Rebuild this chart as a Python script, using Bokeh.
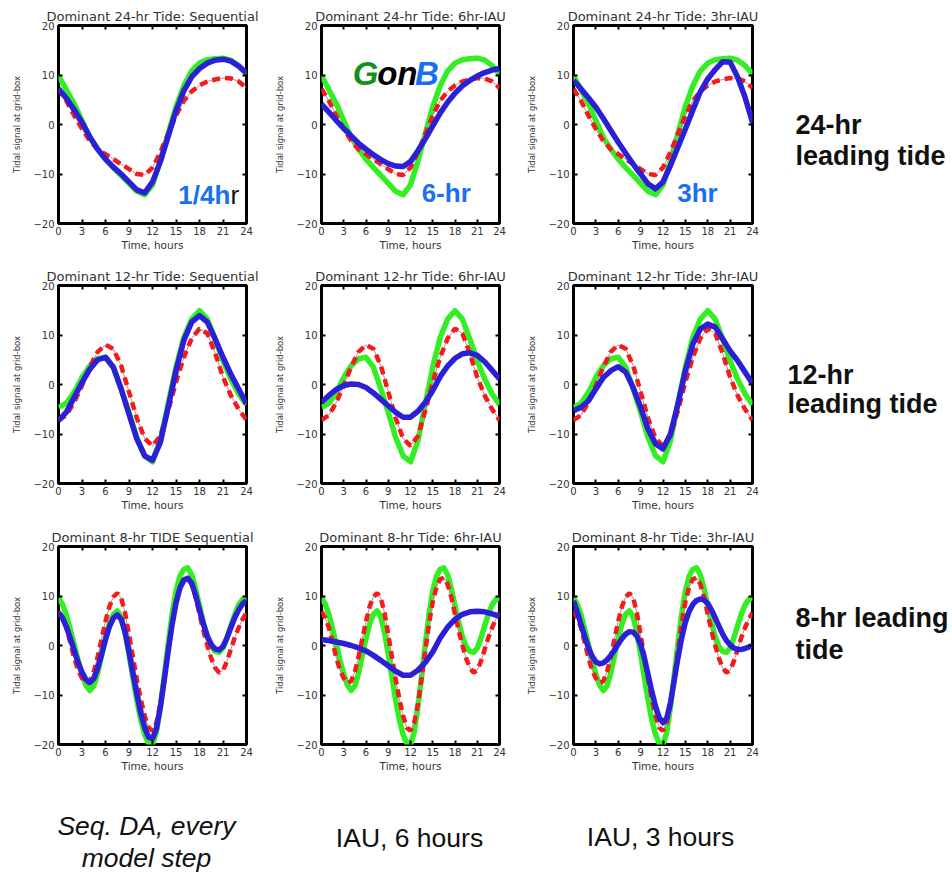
from bokeh.plotting import figure
from bokeh.layouts import column, row
from bokeh.models import Range1d, FixedTicker, LinearAxis, Label
from bokeh.embed import file_html
from bokeh.resources import INLINE

# ---------------- data ----------------
HOURS = [0, 1, 2, 3, 4, 5, 6, 7, 8, 9, 10, 11, 12, 13, 14, 15, 16, 17, 18, 19, 20, 21, 22, 23, 24]
HALF_HOURS = [0, 0.5, 1, 1.5, 2, 2.5, 3, 3.5, 4, 4.5, 5, 5.5, 6, 6.5, 7, 7.5, 8, 8.5, 9, 9.5,
              10, 10.5, 11, 11.5, 12, 12.5, 13, 13.5, 14, 14.5, 15, 15.5, 16, 16.5, 17, 17.5,
              18, 18.5, 19, 19.5, 20, 20.5, 21, 21.5, 22, 22.5, 23, 23.5, 24]

X_TICKS = [0, 3, 6, 9, 12, 15, 18, 21, 24]
Y_TICKS = [-20, -10, 0, 10, 20]

TITLES = [
    ["Dominant 24-hr Tide: Sequential", "Dominant 24-hr Tide: 6hr-IAU", "Dominant 24-hr Tide: 3hr-IAU"],
    ["Dominant 12-hr Tide: Sequential", "Dominant 12-hr Tide: 6hr-IAU", "Dominant 12-hr Tide: 3hr-IAU"],
    ["Dominant 8-hr TIDE Sequential", "Dominant 8-hr Tide: 6hr-IAU", "Dominant 8-hr Tide: 3hr-IAU"],
]

# row 1: 24-hr leading tide (hourly)
red_24 = [7.2, 4.8, 1.8, -0.9, -3.3, -5.0, -6.0, -7.0, -8.0, -9.0, -10.0, -10.2, -8.7, -5.6, -1.9,
          1.8, 4.8, 6.7, 7.9, 8.7, 9.1, 9.4, 9.3, 8.7, 7.4]
green_24 = [9.9, 7.0, 4.2, 0.8, -2.6, -5.0, -7.0, -8.7, -10.3, -11.9, -13.5, -14.2, -12.2, -7.4, -1.8,
            3.6, 7.8, 10.8, 12.4, 13.1, 13.3, 13.4, 13.0, 11.9, 10.2]
blue_24_seq = [7.2, 5.3, 3.0, 0.4, -2.5, -5.0, -7.0, -8.6, -10.0, -11.6, -13.2, -13.8, -11.6, -7.5, -2.4,
               2.8, 6.8, 9.6, 11.3, 12.4, 13.0, 13.2, 12.8, 11.8, 10.4]
blue_24_iau6 = [4.1, 2.5, 0.8, -0.8, -2.3, -3.8, -5.0, -6.1, -7.1, -7.9, -8.4, -8.5, -7.5, -5.3, -2.9,
                -0.3, 2.3, 4.5, 6.3, 7.8, 8.9, 9.8, 10.5, 11.0, 11.3]
blue_24_iau3 = [8.9, 7.2, 5.4, 3.5, 1.2, -1.2, -3.6, -5.8, -8.0, -10.0, -12.0, -13.0, -11.6, -8.3, -4.6,
                -0.9, 2.9, 6.6, 9.2, 11.1, 12.7, 12.6, 9.6, 5.5, 0.4]

# row 2: 12-hr leading tide (hourly)
red_12 = [-7.2, -6.2, -3.6, -0.2, 3.6, 6.6, 8.0, 7.2, 3.8, -1.5, -6.8, -10.9, -12.4, -10.4, -5.3,
          0.5, 5.5, 9.3, 11.3, 10.3, 6.3, 1.5, -2.2, -5.0, -7.2]
green_12 = [-4.6, -3.8, -1.6, 1.4, 3.8, 5.2, 5.5, 3.5, -0.9, -5.6, -10.7, -14.4, -15.6, -11.4, -3.9,
            3.5, 9.5, 13.2, 14.9, 13.2, 9.2, 4.8, 1.1, -1.9, -4.1]
blue_12_seq = [-7.3, -5.6, -2.6, 0.4, 3.1, 5.0, 5.5, 3.5, -0.9, -6.0, -11.0, -14.4, -15.3, -11.7, -4.6,
               2.8, 8.9, 12.6, 13.9, 12.6, 9.2, 5.5, 2.1, -0.9, -3.9]
blue_12_iau6 = [-3.6, -2.2, -1.0, -0.2, 0.1, 0.0, -0.6, -1.7, -3.0, -4.3, -5.6, -6.6, -6.6, -5.4, -3.6,
                -1.2, 1.6, 3.7, 5.3, 6.2, 6.4, 5.9, 4.6, 2.9, 1.1]
blue_12_iau3 = [-5.3, -4.6, -3.3, -0.9, 1.4, 2.8, 3.6, 2.5, -0.6, -4.6, -9.0, -12.0, -13.0, -10.0, -3.9,
                2.8, 8.2, 11.2, 12.2, 11.6, 9.2, 6.8, 4.8, 2.5, 0.2]

# row 3: 8-hr leading tide (half-hourly, except the smooth 6hr-IAU curve)
red_8 = [6.9, 5.6, 3.6, 0.6, -2.5, -5.0, -6.6, -7.6, -7.2, -5.3, -2.3, 1.3, 4.9, 7.9, 9.8, 10.6, 9.6,
         6.6, 2.2, -2.3, -6.8, -10.8, -14.2, -16.6, -17.2, -15.6, -11.8, -6.6, -1.0, 4.4, 8.8, 11.8,
         13.4, 13.7, 12.4, 9.8, 6.3, 3.0, 0.0, -2.6, -4.5, -5.5, -5.0, -3.2, -0.8, 1.6, 3.6, 5.3, 6.6]
green_8 = [9.6, 8.4, 6.2, 3.3, 0.2, -3.0, -5.8, -8.0, -9.1, -8.2, -5.6, -2.0, 1.5, 4.4, 6.3, 7.0, 5.8,
           2.6, -1.8, -6.5, -11.0, -15.0, -18.0, -19.8, -20.0, -17.5, -12.5, -6.2, 0.3, 6.3, 11.0,
           14.0, 15.4, 15.7, 14.3, 11.5, 8.0, 4.6, 1.8, -0.2, -1.2, -1.4, -0.5, 1.5, 4.0, 6.3, 8.2,
           9.3, 9.7]
blue_8_seq = [6.6, 5.6, 3.8, 1.5, -1.0, -3.4, -5.4, -6.9, -7.5, -6.7, -4.6, -1.8, 1.2, 3.8, 5.5, 6.2,
              5.3, 2.7, -1.3, -5.6, -9.8, -13.6, -16.6, -18.5, -18.8, -16.8, -12.5, -7.0, -1.2, 4.2,
              8.6, 11.6, 13.2, 13.6, 12.6, 10.2, 7.2, 4.3, 1.9, 0.2, -0.7, -0.9, -0.2, 1.5, 3.6, 5.6,
              7.2, 8.4, 9.1]
blue_8_iau6 = [1.2, 1.0, 0.7, 0.4, 0.0, -0.5, -1.1, -2.0, -3.0, -4.1, -5.2, -6.0, -6.0, -5.0, -3.4,
               -1.3, 1.5, 3.7, 5.3, 6.3, 6.8, 6.9, 6.8, 6.4, 5.9]
blue_8_iau3 = [9.0, 6.8, 4.3, 1.8, -0.4, -2.2, -3.3, -3.7, -3.5, -2.9, -2.0, -0.9, 0.3, 1.4, 2.3, 2.8,
               2.7, 1.9, 0.2, -2.5, -5.9, -9.3, -12.3, -14.6, -15.6, -14.7, -11.6, -7.1, -2.5, 1.5,
               4.7, 6.9, 8.3, 9.1, 9.4, 9.2, 8.5, 7.2, 5.6, 3.9, 2.3, 1.0, 0.1, -0.5, -0.8, -0.8,
               -0.6, -0.3, 0.0]

ROWS = [
    (HOURS, red_24, green_24, [(HOURS, blue_24_seq), (HOURS, blue_24_iau6), (HOURS, blue_24_iau3)]),
    (HOURS, red_12, green_12, [(HOURS, blue_12_seq), (HOURS, blue_12_iau6), (HOURS, blue_12_iau3)]),
    (HALF_HOURS, red_8, green_8, [(HALF_HOURS, blue_8_seq), (HOURS, blue_8_iau6), (HALF_HOURS, blue_8_iau3)]),
]

ROW_LABELS = [["24-hr", "leading tide"], ["12-hr", "leading tide"], ["8-hr leading", "tide"]]
COL_LABELS = [["Seq. DA, every", "model step"], ["IAU, 6 hours"], ["IAU, 3 hours"]]

# ---------------- styling ----------------
GREEN = "#33ee22"
RED = "#f51b1b"
BLUE = "#2b1fd8"
LABEL_BLUE = "#1a6ff0"
FONT = "DejaVu Sans"
BIG = "Liberation Sans"

COL_W = [272, 252, 248]
COL_L = [58, 40, 40]
COL_R = [26, 25, 20]
SIDE_W = 952 - sum(COL_W)
ROW_H = [260, 261, 259]
ROW_B = [37, 38, 36]
BOTTOM_H = 875 - sum(ROW_H)


def style_axis(ax, ticks, label=None, label_size="10.5px"):
    ax.ticker = FixedTicker(ticks=ticks)
    ax.major_tick_in = 4
    ax.major_tick_out = 0
    ax.major_tick_line_width = 2
    ax.major_tick_line_color = "black"
    ax.minor_tick_line_color = None
    ax.axis_line_color = None
    ax.major_label_text_font = FONT
    ax.major_label_text_font_size = "10px"
    ax.major_label_text_color = "#333333"
    if label is not None:
        ax.axis_label = label
        ax.axis_label_text_font = FONT
        ax.axis_label_text_font_size = label_size
        ax.axis_label_text_font_style = "normal"
        ax.axis_label_text_color = "#333333"


def make_panel(r, c):
    t_ref, red, green, blues = ROWS[r]
    t_blue, blue = blues[c]
    p = figure(width=COL_W[c], height=ROW_H[r], x_range=Range1d(0, 24), y_range=Range1d(-20, 20),
               output_backend="svg", toolbar_location=None,
               min_border_left=COL_L[c], min_border_right=COL_R[c],
               min_border_top=25, min_border_bottom=ROW_B[r], title=TITLES[r][c])
    p.title.align = "center"
    p.title.text_font = FONT
    p.title.text_font_size = "13px"
    p.title.text_font_style = "normal"
    p.title.text_color = "#333333"
    p.title.standoff = 4
    p.grid.visible = False
    p.outline_line_color = "black"
    p.outline_line_width = 3
    p.background_fill_color = "white"
    p.border_fill_color = "white"

    style_axis(p.xaxis[0], X_TICKS, "Time, hours", "10.5px")
    p.xaxis[0].major_label_standoff = 3
    p.xaxis[0].axis_label_standoff = 1
    style_axis(p.yaxis[0], Y_TICKS, "Tidal signal at grid-box", "8.5px")
    p.yaxis[0].major_label_standoff = 4
    p.yaxis[0].axis_label_standoff = 8

    # tick marks on the top and right frame edges (no labels)
    top = LinearAxis()
    style_axis(top, X_TICKS)
    top.major_label_text_color = None
    top.major_label_text_font_size = "1px"
    top.major_label_standoff = 0
    p.add_layout(top, "above")
    right = LinearAxis()
    style_axis(right, Y_TICKS)
    right.major_label_text_color = None
    right.major_label_text_font_size = "1px"
    right.major_label_standoff = 0
    p.add_layout(right, "right")

    p.line(t_ref, green, line_color=GREEN, line_width=5.5, line_join="round")
    p.line(t_ref, red, line_color="#9a9a9a", line_width=1)
    p.line(t_ref, red, line_color=RED, line_width=4.5, line_dash="8 5")
    p.line(t_blue, blue, line_color=BLUE, line_width=5.5, line_join="round")
    return p


def blank_fig(w, h):
    f = figure(width=w, height=h, x_range=Range1d(0, w), y_range=Range1d(h, 0),
               x_axis_type=None, y_axis_type=None, output_backend="svg", toolbar_location=None,
               min_border=0, min_border_left=0, min_border_right=0, min_border_top=0,
               min_border_bottom=0)
    f.outline_line_color = None
    f.grid.visible = False
    f.border_fill_color = "white"
    f.background_fill_color = "white"
    return f


def lab(p, x, y, text, color, size="26px", style="bold", align="left", font=BIG):
    p.add_layout(Label(x=x, y=y, text=text, text_font=font, text_font_style=style,
                       text_font_size=size, text_color=color, text_baseline="alphabetic",
                       text_align=align))


panels = [[make_panel(r, c) for c in range(3)] for r in range(3)]

# in-panel annotations
p11, p12, p13 = panels[0]
lab(p11, 15.3, -14.3, "1/4h", LABEL_BLUE)
lab(p11, 21.95, -14.3, "r", "#111111", style="normal")
lab(p12, 13.5, -13.9, "6-hr", LABEL_BLUE)
lab(p13, 13.9, -13.9, "3hr", LABEL_BLUE)
lab(p12, 4.2, 10.4, "G", "#15901a", size="33px", style="bold italic")
lab(p12, 7.5, 10.4, "on", "#000000", size="33px", style="bold italic")
lab(p12, 12.6, 10.4, "B", LABEL_BLUE, size="33px", style="bold italic")

# right-hand row captions
side_pos = [(23, [131, 172]), (15, [118, 156]), (23, [94, 135])]
sides = []
for r in range(3):
    f = blank_fig(SIDE_W, ROW_H[r])
    sx, sys_ = side_pos[r]
    for yy, txt in zip(sys_, ROW_LABELS[r]):
        lab(f, sx, yy, txt, "#111111", size="27px", style="bold")
    sides.append(f)

# bottom column captions
fb = blank_fig(952, BOTTOM_H)
cap_pos = [(146, [45, 77], "italic"), (409, [57], "normal"), (660, [56], "normal")]
for (cx, ys, st), texts in zip(cap_pos, COL_LABELS):
    for yy, txt in zip(ys, texts):
        lab(fb, cx, yy, txt, "#111111", size="26.5px", style=st, align="center")

layout = column(*[row(*panels[r], sides[r], spacing=0) for r in range(3)], fb, spacing=0)

open("out.html", "w").write(file_html(layout, INLINE))
